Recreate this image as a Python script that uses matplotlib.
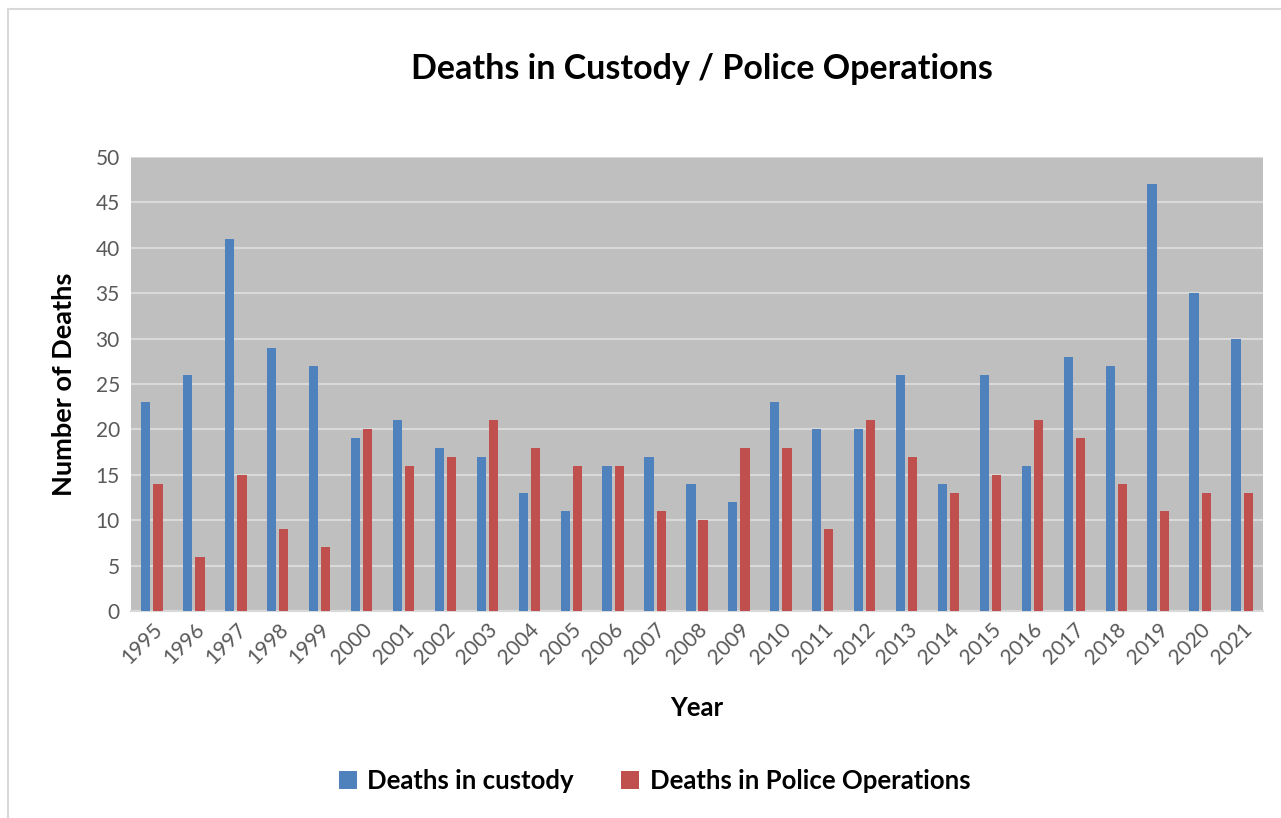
import numpy as np
import matplotlib.pyplot as plt
from matplotlib.patches import Rectangle

# Datos
anios = [str(a) for a in range(1995, 2022)]
en_custodia = [23, 26, 41, 29, 27, 19, 21, 18, 17, 13, 11, 16, 17, 14, 12,
               23, 20, 20, 26, 14, 26, 16, 28, 27, 47, 35, 30]
en_operaciones = [14, 6, 15, 9, 7, 20, 16, 17, 21, 18, 16, 16, 11, 10, 18,
                  18, 9, 21, 17, 13, 15, 21, 19, 14, 11, 13, 13]
yticks = [0, 5, 10, 15, 20, 25, 30, 35, 40, 45, 50]

plt.rcParams['font.family'] = ['Lato', 'DejaVu Sans']

fig = plt.figure(figsize=(12.81, 8.18), dpi=100)
fig.patches.append(Rectangle((8 / 1281, -0.1), 1.2, (818 - 9) / 818 + 0.1,
                             transform=fig.transFigure, fill=False,
                             edgecolor='#D9D9D9', linewidth=1.5))

ax = fig.add_axes([131 / 1281, 1 - 611 / 818, 1132 / 1281, 454 / 818])
ax.set_facecolor('#BFBFBF')

x = np.arange(len(anios))
ancho = 0.22
ax.bar(x - ancho / 2 - 0.035, en_custodia, width=ancho, color='#4F81BD',
       label='Deaths in custody', zorder=3)
ax.bar(x + ancho / 2 + 0.035, en_operaciones, width=ancho, color='#C0504D',
       label='Deaths in Police Operations', zorder=3)

ax.set_xlim(-0.5, len(anios) - 0.5)
ax.set_ylim(0, 50)
ax.set_yticks(yticks)
ax.set_xticks(x)
ax.set_xticklabels(anios, rotation=45, ha='right', rotation_mode='anchor')
ax.tick_params(axis='both', length=0, labelsize=15, colors='#595959')
ax.tick_params(axis='y', pad=8)
ax.tick_params(axis='x', pad=6)
ax.grid(axis='y', color='#D9D9D9', linewidth=1.5, zorder=1)
for lado in ['left', 'right', 'top']:
    ax.spines[lado].set_visible(False)
ax.spines['bottom'].set_color('#D9D9D9')
ax.spines['bottom'].set_linewidth(1.5)

ax.set_ylabel('Number of Deaths', fontsize=19.5, fontweight='bold', labelpad=14)
ax.set_xlabel('Year', fontsize=18.5, fontweight='bold', labelpad=20)

fig.text(0.548, 1 - 69 / 818, 'Deaths in Custody / Police Operations',
         fontsize=24.5, fontweight='bold', ha='center', va='center')

fig.legend(loc='center', bbox_to_anchor=(0.511, 1 - 781 / 818), ncol=2,
           frameon=False, handlelength=0.7, handleheight=0.7,
           columnspacing=1.85, handletextpad=0.4,
           prop={'weight': 'bold', 'size': 18.5})

fig.savefig('out.png', dpi=100)
